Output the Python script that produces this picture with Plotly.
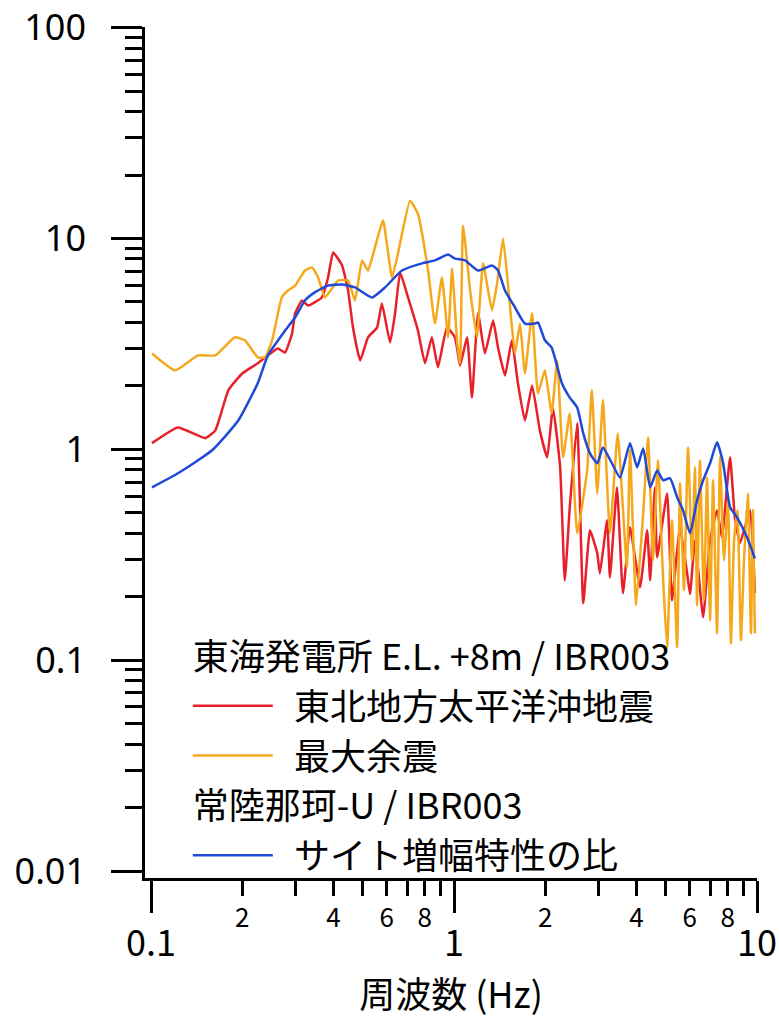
import plotly.graph_objects as go

# ---- data ----
blue_f = [0.1007,0.1227,0.159,0.194,0.225,0.243,0.277,0.299,0.322,0.347,
          0.384,0.427,0.471,0.536,0.592,0.673,0.784,0.865,0.956,1.007,
          1.087,1.20,1.334,1.397,1.473,1.589,1.714,1.849,1.892,1.995,
          2.10,2.27,2.41,2.55,2.67,2.81,2.97,3.10,3.32,3.53,
          3.81,4.02,4.21,4.44,4.68,4.90,5.16,5.45,5.70,6.01,
          6.34,6.64,7.00,7.38,7.73,8.15,8.59,9.27,9.84]
blue_a = [0.66,0.77,0.99,1.37,2.06,2.79,3.66,4.23,5.08,5.55,
          5.98,6.05,5.86,5.25,5.86,7.05,7.62,7.87,8.39,8.03,
          7.87,7.05,7.45,7.05,5.67,4.71,3.95,3.95,4.0,3.29,
          3.04,2.06,1.76,1.58,1.19,0.957,0.859,1.02,0.859,0.736,
          1.07,0.822,1.01,0.66,0.794,0.713,0.73,0.593,0.514,0.40,
          0.573,0.713,0.859,1.08,0.859,0.531,0.476,0.383,0.304]

red_f = [0.1007,0.1227,0.151,0.163,0.180,0.200,0.225,0.243,0.262,0.277,
         0.292,0.299,0.315,0.330,0.366,0.384,0.399,0.427,0.447,0.464,
         0.490,0.520,0.557,0.578,0.615,0.639,0.664,0.705,0.760,0.802,
         0.845,0.885,0.948,1.007,1.047,1.104,1.146,1.20,1.264,1.346,
         1.397,1.473,1.552,1.625,1.714,1.81,1.92,2.03,2.12,2.24,
         2.32,2.41,2.55,2.67,2.81,2.97,3.03,3.20,3.27,3.45,
         3.61,3.81,4.11,4.34,4.44,4.60,4.68,5.05,5.24,5.57,
         5.88,6.01,6.24,6.64,7.00,7.38,7.66,8.15,8.45,8.79,
         9.49,9.84]
red_a = [1.07,1.27,1.13,1.23,1.91,2.29,2.56,2.79,3.01,2.88,
         3.55,4.42,5.08,4.81,5.25,6.53,8.59,7.45,5.67,3.78,
         2.64,3.40,3.78,4.92,3.21,4.42,6.90,5.25,3.66,2.56,
         3.40,2.45,3.78,3.40,2.50,3.40,1.76,4.42,2.85,4.08,
         3.04,2.24,3.29,2.06,1.37,2.01,1.23,0.916,1.58,0.822,
         0.239,0.531,1.33,0.186,0.413,0.321,0.258,0.461,0.247,0.66,
         0.208,0.427,0.222,0.413,0.239,0.66,0.308,0.618,0.192,0.427,
         0.258,0.206,0.371,0.160,0.371,0.514,0.383,0.916,0.476,0.359,
         0.514,0.208]

orange_f = [0.1007,0.120,0.143,0.163,0.189,0.204,0.225,0.238,0.251,0.270,
            0.283,0.299,0.322,0.340,0.356,0.375,0.414,0.447,0.471,0.497,
            0.520,0.548,0.583,0.624,0.653,0.716,0.760,0.821,0.865,0.912,
            0.956,0.985,1.023,1.047,1.071,1.130,1.19,1.247,1.334,1.387,
            1.452,1.531,1.589,1.651,1.714,1.81,1.892,1.995,2.10,2.19,
            2.29,2.41,2.55,2.75,2.85,2.97,3.10,3.27,3.47,
            3.72,3.81,3.99,4.21,4.37,4.54,4.71,4.90,5.05,5.24,
            5.45,5.57,5.74,5.92,6.10,6.24,6.34,6.48,6.68,6.84,
            7.00,7.16,7.38,7.55,7.78,8.02,8.20,8.40,8.62,8.85,
            9.06,9.33,9.55,9.70,9.84]
orange_a = [2.85,2.37,2.79,2.79,3.40,3.29,2.73,2.73,3.29,5.25,
            5.67,5.98,7.05,7.29,6.53,5.25,6.32,6.32,5.08,7.87,
            7.05,9.06,12.2,6.53,8.49,15.1,13.1,7.05,3.95,6.53,
            3.40,7.21,3.29,2.56,11.5,5.67,3.40,7.62,4.56,6.12,
            10.0,4.71,2.85,3.95,2.29,4.42,1.84,2.37,1.48,2.64,
            0.916,1.48,0.40,0.794,1.91,0.618,1.71,0.40,1.19,
            0.276,0.99,0.182,0.498,1.14,0.298,0.887,0.239,0.115,0.461,
            0.115,0.69,0.215,1.02,0.298,0.822,0.182,0.887,0.192,0.736,
            0.155,0.713,0.134,0.916,0.298,0.573,0.12,0.371,0.514,0.124,
            0.298,0.618,0.134,0.514,0.134]

group1_title = "東海発電所 E.L. +8m / IBR003"
group2_title = "常陸那珂-U / IBR003"
red_name = "東北地方太平洋沖地震"
orange_name = "最大余震"
blue_name = "サイト増幅特性の比"

x_major = [0.1, 1, 10]
x_major_text = ["0.1", "1", "10"]
x_minor = [m * d for d in (0.1, 1) for m in range(2, 10)]
x_minor_text = [str(m) if m % 2 == 0 else "" for d in (0.1, 1) for m in range(2, 10)]
y_major = [0.01, 0.1, 1, 10, 100]
y_major_text = ["0.01", "0.1", "1", "10", "100"]
y_minor = [m * d for d in (0.01, 0.1, 1, 10) for m in range(2, 10)]

FONT = "Noto Sans CJK JP"
RED = "#e8202a"
ORANGE = "#f5a81c"
BLUE = "#1f4ad8"
PAD = "\u00a0\u00a0"

fig = go.Figure()
fig.add_trace(go.Scatter(x=red_f, y=red_a, mode="lines", name=PAD + red_name,
                         line=dict(color=RED, width=2.5, shape="spline", smoothing=0.4),
                         legendgroup="g1", legendgrouptitle=dict(text=group1_title)))
fig.add_trace(go.Scatter(x=orange_f, y=orange_a, mode="lines", name=PAD + orange_name,
                         line=dict(color=ORANGE, width=2.5, shape="spline", smoothing=0.4),
                         legendgroup="g1"))
fig.add_trace(go.Scatter(x=blue_f, y=blue_a, mode="lines", name=PAD + blue_name,
                         line=dict(color=BLUE, width=2.5, shape="spline", smoothing=0.5),
                         legendgroup="g2", legendgrouptitle=dict(text=group2_title)))
# invisible trace to carry the minor-labelled x axis
fig.add_trace(go.Scatter(x=[0.1, 10], y=[1, 1], xaxis="x2", mode="lines",
                         line=dict(width=0), showlegend=False, hoverinfo="skip"))

xr = [-1.02, 1.0]
fig.update_layout(
    width=779, height=1020,
    margin=dict(l=145, r=22, t=27, b=142),
    paper_bgcolor="white", plot_bgcolor="white",
    font=dict(family=FONT, color="black", size=36),
    xaxis=dict(type="log", range=xr, showgrid=False, zeroline=False, automargin=False,
               showline=True, linewidth=2.5, linecolor="black",
               ticks="outside", ticklen=32, tickwidth=2.5, tickcolor="black",
               tickmode="array", tickvals=x_major, ticktext=x_major_text,
               tickfont=dict(size=36), ticklabelstandoff=0, ticklabeloverflow="allow",
               title=dict(text="周波数 (Hz)", font=dict(size=36), standoff=6)),
    xaxis2=dict(type="log", range=xr, overlaying="x", anchor="y", side="bottom",
                showgrid=False, zeroline=False, showline=False, automargin=False,
                ticks="outside", ticklen=17, tickwidth=2.5, tickcolor="black",
                tickmode="array", tickvals=x_minor, ticktext=x_minor_text,
                tickfont=dict(size=26), ticklabelstandoff=0, ticklabeloverflow="allow"),
    yaxis=dict(type="log", range=[-2.033, 2.003], showgrid=False, zeroline=False,
               automargin=False,
               showline=True, linewidth=2.5, linecolor="black",
               ticks="outside", ticklen=31, tickwidth=2.5, tickcolor="black",
               tickmode="array", tickvals=y_major, ticktext=y_major_text,
               tickfont=dict(size=36, family="Noto Sans"), ticklabelstandoff=18,
               ticklabeloverflow="allow",
               minor=dict(tickvals=y_minor, ticks="outside", ticklen=17,
                          tickwidth=2.5, tickcolor="black")),
    legend=dict(x=0.07, y=0.296, xanchor="left", yanchor="top",
                bgcolor="rgba(0,0,0,0)", font=dict(size=36, family=FONT),
                grouptitlefont=dict(size=36, family=FONT),
                tracegroupgap=0, itemwidth=80, traceorder="grouped"),
    showlegend=True,
)

fig.write_html("out.html")
